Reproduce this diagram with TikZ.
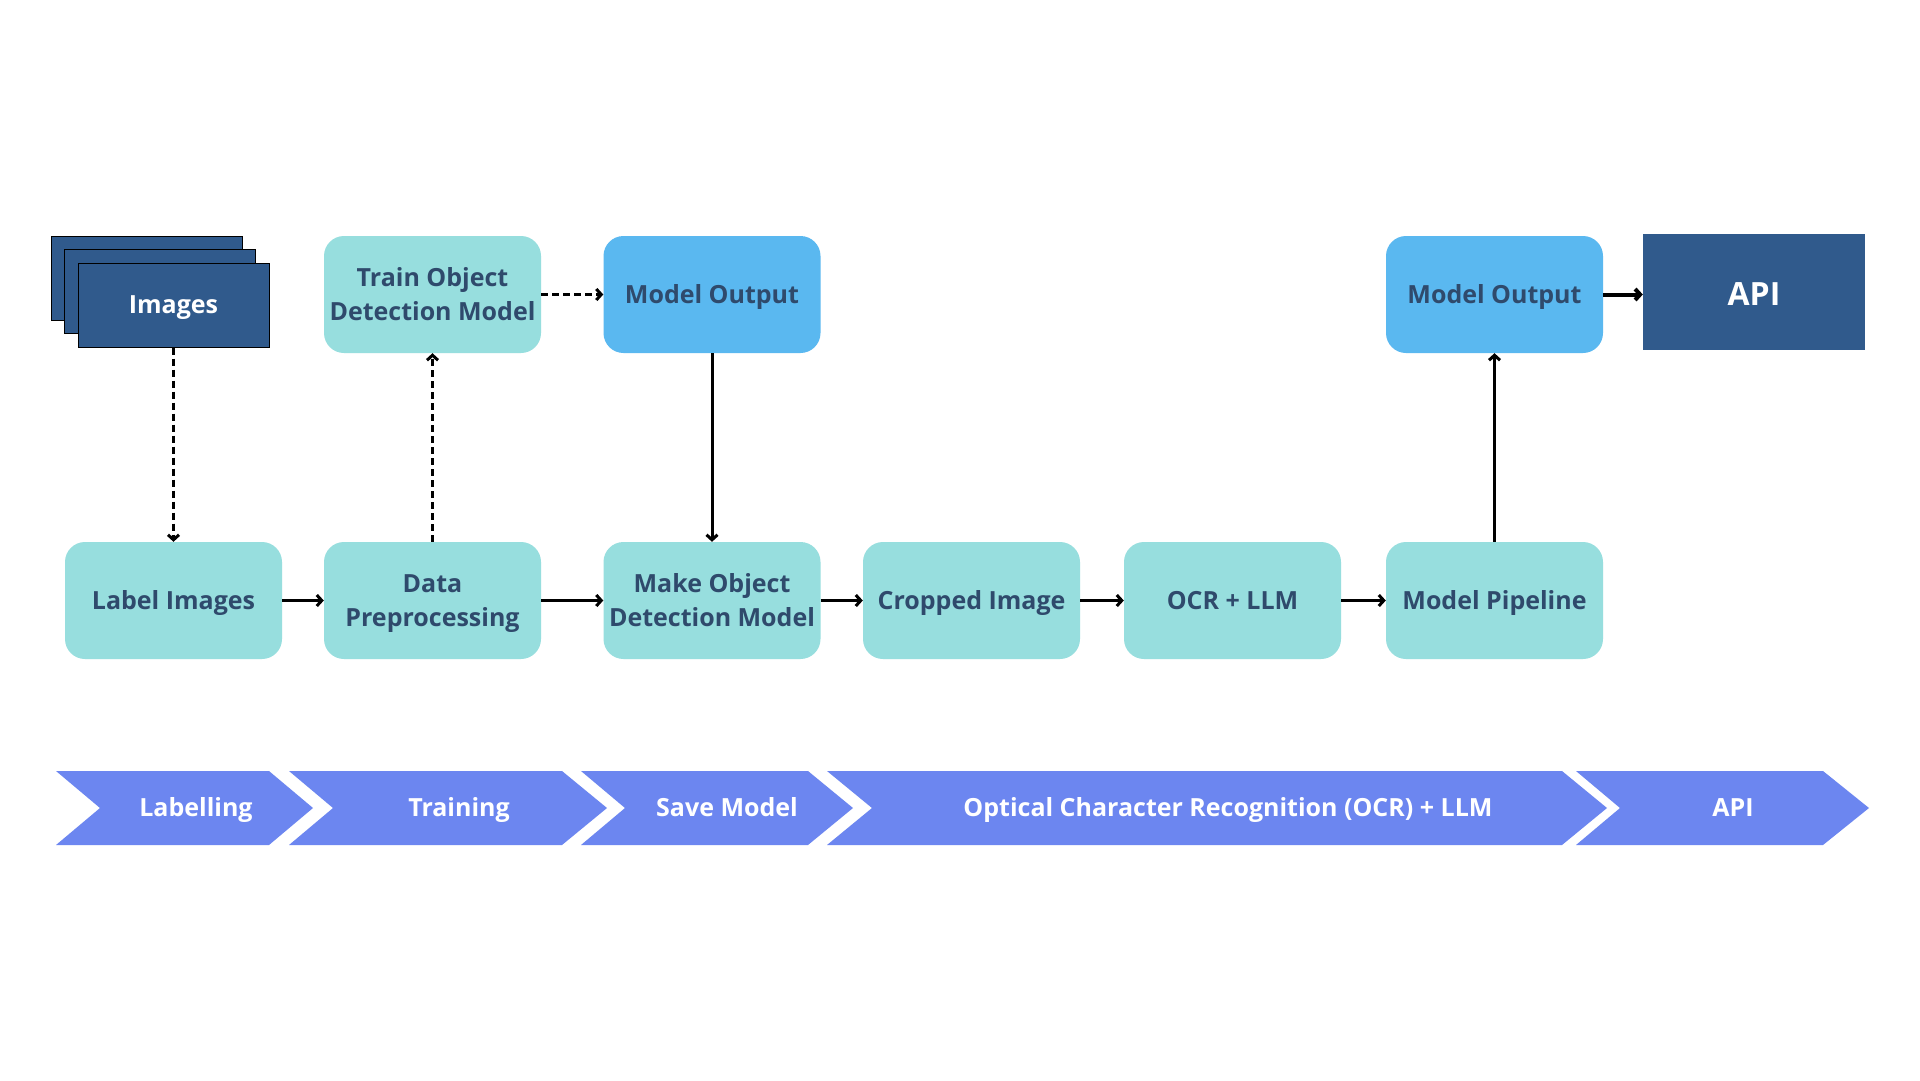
\documentclass[tikz,border=0pt]{standalone}
\usepackage{fontspec}
\setmainfont{Open Sans}
\usetikzlibrary{arrows.meta}
\definecolor{teal}{HTML}{97DEDE}
\definecolor{lblue}{HTML}{5AB8F0}
\definecolor{navy}{HTML}{305A8C}
\definecolor{chev}{HTML}{6C86F0}
\definecolor{txt}{HTML}{2F4A6C}
\begin{document}
\begin{tikzpicture}[x=1pt,y=-1pt,
  box/.style={rounded corners=20pt, minimum width=217pt, minimum height=117pt, align=center,
    font=\fontsize{25}{34}\selectfont\bfseries, text=txt, inner sep=0pt},
  tealbox/.style={box, fill=teal},
  bluebox/.style={box, fill=lblue},
  one/.style={text height=18pt, text depth=1pt},
  imgrect/.style={draw=black, line width=1pt, fill=navy, minimum width=191pt, minimum height=84pt, inner sep=0pt},
  conn/.style={line width=3pt, -{Straight Barb[length=5pt,width=11pt]}},
  dconn/.style={conn, dash pattern=on 7pt off 4pt},
  chevlabel/.style={text=white, font=\fontsize{25}{28}\selectfont\bfseries, text height=18pt, text depth=1pt}
]
\useasboundingbox (0,0) rectangle (1920,1080);
\fill[white] (0,0) rectangle (1920,1080);

% image stack
\node[imgrect] (img3) at (146.5,278) {};
\node[imgrect] (img2) at (160,291.5) {};
\node[imgrect, one, font=\fontsize{25}{28}\selectfont\bfseries, text=white] (img) at (173.5,305) {Images};

% top row
\node[tealbox] (train) at (432.5,294.5) {Train Object\\Detection Model};
\node[bluebox, one] (mo1) at (712,294.5) {Model Output};
\node[bluebox, one] (mo2) at (1494.5,294.5) {Model Output};
\node[fill=navy, minimum width=222pt, minimum height=116pt, inner sep=0pt, text=white,
  text height=27pt, text depth=0pt,
  font=\fontsize{32}{36}\selectfont\bfseries] (api) at (1754,292) {API};

% bottom row
\node[tealbox, one] (label) at (173.5,600.5) {Label Images};
\node[tealbox] (prep) at (432.5,600.5) {Data\\\smash{Preprocessing}};
\node[tealbox] (make) at (712,600.5) {Make Object\\Detection Model};
\node[tealbox, one] (crop) at (971.5,600.5) {Cropped Image};
\node[tealbox, one] (ocr) at (1232.5,600.5) {OCR + LLM};
\node[tealbox, one] (pipe) at (1494.5,600.5) {Model Pipeline};

% connectors
\draw[dconn] (img.south) -- (label.north);
\draw[dconn] (prep.north) -- (train.south);
\draw[dconn] (train.east) -- (mo1.west);
\draw[conn] (mo1.south) -- (make.north);
\draw[conn] (label.east) -- (prep.west);
\draw[conn] (prep.east) -- (make.west);
\draw[conn] (make.east) -- (crop.west);
\draw[conn] (crop.east) -- (ocr.west);
\draw[conn] (ocr.east) -- (pipe.west);
\draw[conn] (pipe.north) -- (mo2.south);
\draw[conn, line width=4pt] (mo2.east) -- (mo2.east -| api.west);

% chevrons
\fill[chev] (56,771) -- (269,771) -- (313,808) -- (269,845) -- (56,845) -- (100,808) -- cycle;
\fill[chev] (289,771) -- (562,771) -- (607,808) -- (562,845) -- (289,845) -- (333,808) -- cycle;
\fill[chev] (581,771) -- (808,771) -- (853,808) -- (808,845) -- (581,845) -- (625,808) -- cycle;
\fill[chev] (827,771) -- (1562,771) -- (1607,808) -- (1562,845) -- (827,845) -- (872,808) -- cycle;
\fill[chev] (1576,771) -- (1823,771) -- (1869,808) -- (1823,845) -- (1576,845) -- (1620,808) -- cycle;
\node[chevlabel] (c1) at (196,808) {Labelling};
\node[chevlabel] (c2) at (459,808) {Training};
\node[chevlabel] (c3) at (727,808) {Save Model};
\node[chevlabel] (c4) at (1228,808) {Optical Character Recognition (OCR) + LLM};
\node[chevlabel] (c5) at (1733,808) {API};
\end{tikzpicture}
\end{document}
